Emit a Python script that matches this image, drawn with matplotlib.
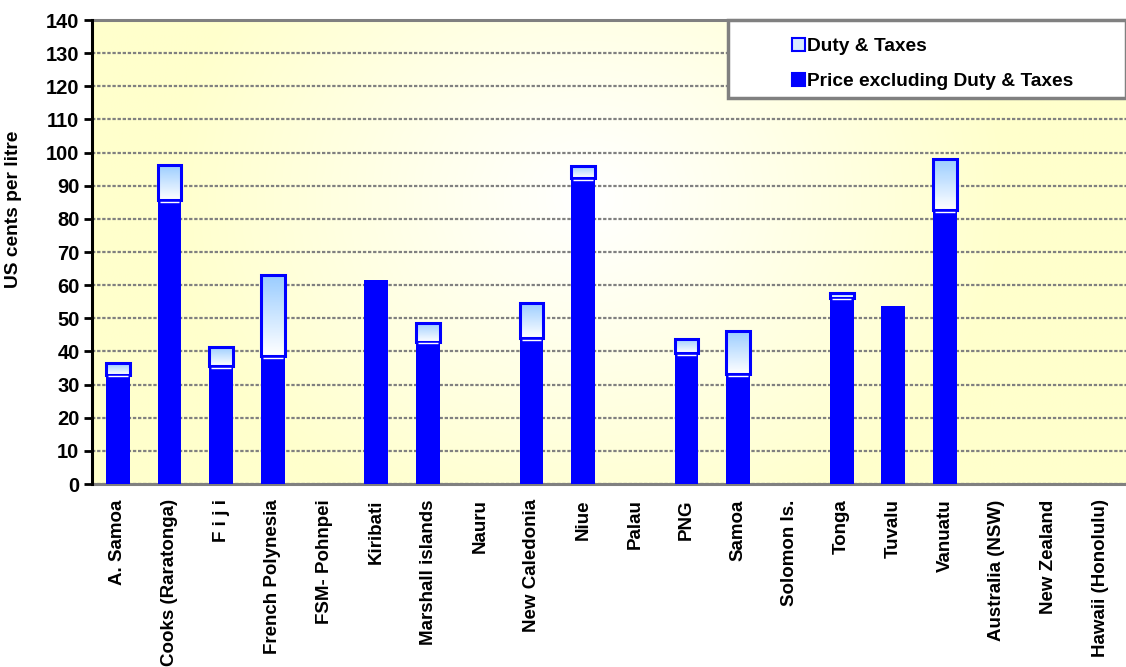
import numpy as np
import matplotlib
matplotlib.use("Agg")
import matplotlib.pyplot as plt
from matplotlib.patches import Patch, Rectangle
from matplotlib.colors import LinearSegmentedColormap

plt.rcParams['font.family'] = ['Liberation Sans', 'DejaVu Sans']
plt.rcParams['font.weight'] = 'bold'

countries = ["A. Samoa", "Cooks (Raratonga)", "F i j i", "French Polynesia",
             "FSM- Pohnpei", "Kiribati", "Marshall islands", "Nauru",
             "New Caledonia", "Niue", "Palau", "PNG", "Samoa", "Solomon Is.",
             "Tonga", "Tuvalu", "Vanuatu", "Australia (NSW)", "New Zealand",
             "Hawaii (Honolulu)"]
# price before duty & taxes, US cents per litre (nan = no data)
price = [33.0, 85.7, 35.6, 38.6, np.nan, 61.6, 42.9, np.nan, 44.0, 92.3,
         np.nan, 39.4, 33.2, np.nan, 56.2, 53.7, 82.7, np.nan, np.nan, np.nan]
duty = [3.6, 10.6, 5.8, 24.6, np.nan, 0.0, 5.8, np.nan, 10.7, 3.7,
        np.nan, 4.5, 13.1, np.nan, 1.5, 0.0, 15.5, np.nan, np.nan, np.nan]

BLUE = "#0000FF"

fig = plt.figure(figsize=(11.26, 6.67), dpi=100)
ax = fig.add_axes([92 / 1126, 1 - 484 / 667, 1 - 92 / 1126, 464 / 667])

# pale yellow background, whitening toward the middle
ny, nx = 200, 400
gx, gy = np.meshgrid(np.linspace(0, 1, nx), np.linspace(1, 0, ny))
r = np.sqrt(((gx - 0.48) * 1.9) ** 2 + ((gy - 0.62) * 1.0) ** 2)
r = np.clip(r / r.max() * 1.5, 0, 1)
bg_cmap = LinearSegmentedColormap.from_list("bg", ["#FFFFFF", "#FFFFCC"])
ax.imshow(r, cmap=bg_cmap, extent=(0, 1, 0, 1), transform=ax.transAxes,
          aspect="auto", zorder=0, interpolation="bilinear")

x = np.arange(len(countries))
w = 0.46
p_arr = np.array(price)
d_arr = np.array(duty)
has = ~np.isnan(p_arr)

ax.bar(x[has], p_arr[has], width=w, color=BLUE, zorder=3, linewidth=0)

# duty & taxes on top: light blue to white fill with a blue outline
grad_cmap = LinearSegmentedColormap.from_list("duty", ["#FFFFFF", "#99CCFF"])
grad = np.linspace(0, 1, 64).reshape(-1, 1)
for xi, p, d in zip(x[has], p_arr[has], d_arr[has]):
    if d <= 0:
        continue
    rect = Rectangle((xi - w / 2, p), w, d, facecolor="none",
                     edgecolor=BLUE, linewidth=2.2, zorder=5)
    ax.add_patch(rect)
    im = ax.imshow(grad, cmap=grad_cmap, origin="lower", aspect="auto",
                   extent=(xi - w / 2, xi + w / 2, p, p + d), zorder=4)
    im.set_clip_path(rect)
    # thin white seam between the two parts
    ax.plot([xi - w / 2 + 0.04, xi + w / 2 - 0.04], [p - 0.5, p - 0.5],
            color="white", linewidth=1, zorder=6, solid_capstyle="butt")

ax.set_xlim(-0.5, len(countries) - 0.5)
ax.set_ylim(0, 140)
ax.set_yticks(np.arange(0, 141, 10))
ax.set_xticks(x)
ax.set_xticklabels(countries, rotation=90, fontsize=13.5, fontweight="bold")
ax.tick_params(axis="y", labelsize=14.5, width=2, length=6, direction="out",
               pad=3)
ax.tick_params(axis="x", length=0, pad=11)
ax.set_ylabel("US cents per litre", fontsize=13.8, fontweight="bold")
ax.yaxis.set_label_coords(-0.068, 0.593)

ax.grid(axis="y", color="#808080", linestyle=(0, (1.5, 0.8)), linewidth=1.6,
        zorder=1)
ax.set_axisbelow(True)
ax.spines["left"].set_color("black")
ax.spines["left"].set_linewidth(2.2)
ax.spines["left"].set_zorder(6)
for s in ("top", "bottom"):
    ax.spines[s].set_color("#808080")
    ax.spines[s].set_linewidth(2.2)
ax.spines["right"].set_visible(False)

# legend panel in the top right corner
box = Rectangle((728 / 1126, 1 - 98 / 667), 1 - 728 / 1126, 78 / 667,
                transform=fig.transFigure, facecolor="white",
                edgecolor="#808080", linewidth=2.5, zorder=10)
fig.patches.append(box)
handles = [Patch(facecolor="#D8EAFF", edgecolor=BLUE, linewidth=1.5),
           Patch(facecolor=BLUE, edgecolor=BLUE, linewidth=1.5)]
leg = fig.legend(handles, ["Duty & Taxes", "Price excluding Duty & Taxes"],
                 loc="upper left", bbox_to_anchor=(782 / 1126, 1 - 28 / 667),
                 frameon=False, handlelength=0.7,
                 handleheight=0.7, handletextpad=0.1, labelspacing=0.92,
                 borderpad=0, prop={"weight": "bold", "size": 13.8})
leg.set_zorder(11)

fig.savefig("out.png", dpi=100)
